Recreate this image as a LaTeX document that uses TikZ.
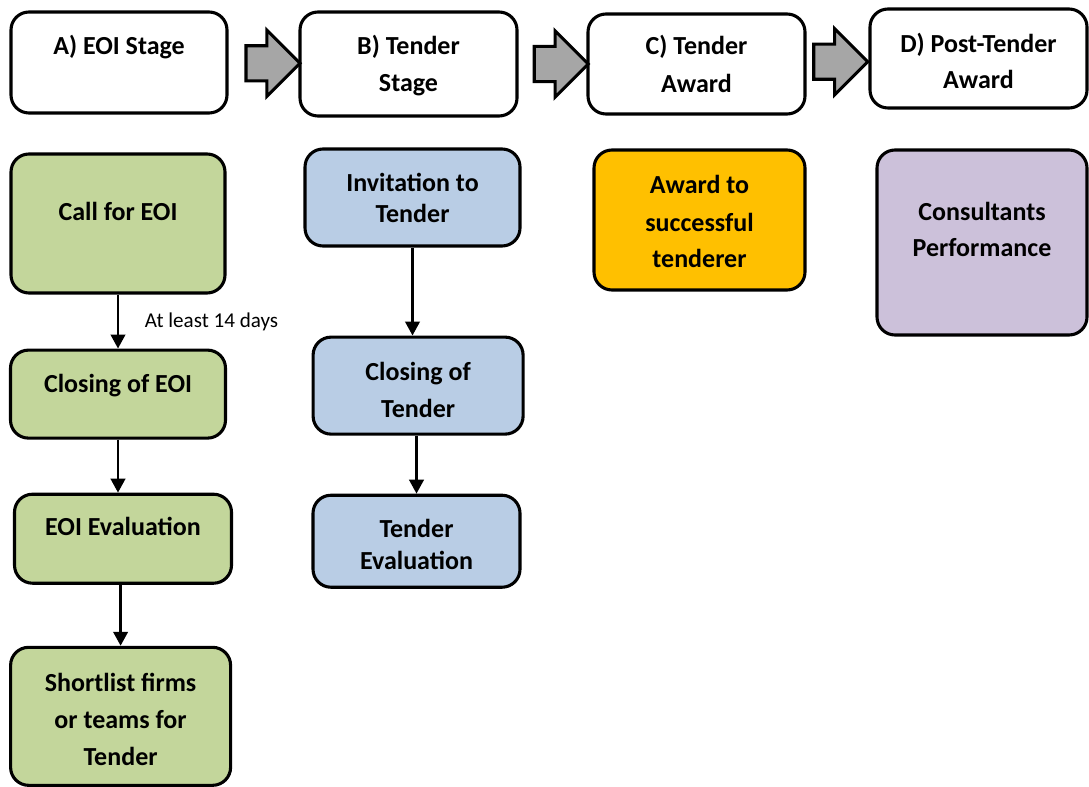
\documentclass[tikz,border=0pt]{standalone}
\usepackage{fontspec}
\setmainfont{Carlito}
\usepackage{xcolor}
\definecolor{eoigreen}{HTML}{C3D69B}
\definecolor{tenderblue}{HTML}{B9CDE5}
\definecolor{awardorange}{HTML}{FFC000}
\definecolor{postpurple}{HTML}{CCC1DA}
\definecolor{stagegrey}{HTML}{A6A6A6}
\usepackage{tikz}
\usetikzlibrary{arrows.meta, positioning, calc, shapes.arrows}

\newlength{\pxu}
\setlength{\pxu}{0.025cm}
% box text: width, height, first baseline, line skip, text
\newcommand{\boxtext}[5]{\parbox[c][#2\pxu][t]{#1\pxu}{\centering
  \fontsize{18.5}{26}\selectfont\bfseries\setlength{\baselineskip}{#4\pxu}%
  \rule{0pt}{#3\pxu}#5\par}}

\begin{document}
\begin{tikzpicture}[
    x=0.025cm, y=-0.025cm,
    stage/.style={draw, line width=2.2pt, rounded corners=0.45cm,
                  inner sep=0pt, fill=white},
    stepbox/.style={draw, line width=2.2pt, rounded corners=0.45cm,
                    inner sep=0pt},
    blockarrow/.style={draw, line width=2.2pt, fill=stagegrey, single arrow,
                       single arrow head extend=0.39cm, inner xsep=0pt,
                       inner ysep=0.4cm, minimum height=1.35cm},
    arrow/.style={-{Triangle[length=3.5mm, width=3.6mm]}, line width=2pt},
    lbl/.style={font=\fontsize{15}{18}\selectfont, inner sep=1pt}
  ]
    \useasboundingbox (0,0) rectangle (1089,787);

    % stages
    \node[stage] (hA) at (119,62.5) {\boxtext{216}{101}{43}{37}{A) EOI Stage}};
    \node[stage] (hB) at (408.5,64) {\boxtext{217}{104}{43}{37}{B) Tender\\Stage}};
    \node[stage] (hC) at (696.5,64) {\boxtext{217}{100}{41}{38}{C) Tender\\Award}};
    \node[stage] (hD) at (978.5,58.5) {\boxtext{217}{99}{44}{36}{D) Post-Tender\\Award}};

    \node[blockarrow] (ab) at ($(hA.east)!0.51!(hB.west)$) {};
    \node[blockarrow] (bc) at ($(hB.east)!0.5!(hC.west)$) {};
    \node[blockarrow] (cd) at ($(hC.east)!0.41!(hD.west)$) {};

    % EOI
    \node[stepbox, fill=eoigreen] (call) at (118,223.5)
      {\boxtext{214}{139}{67}{37}{Call for EOI}};
    \node[stepbox, fill=eoigreen, below=1.35cm of call] (closeeoi)
      {\boxtext{215}{88}{42}{37}{Closing of EOI}};
    \node[stepbox, fill=eoigreen, below=1.325cm of closeeoi, xshift=0.125cm] (evaleoi)
      {\boxtext{217}{89}{41}{37}{EOI Evaluation}};
    \node[stepbox, fill=eoigreen, below=1.525cm of evaleoi, xshift=-0.06cm] (shortlist)
      {\boxtext{220}{138}{44}{37}{Shortlist firms\\or teams for\\Tender}};

    % tender
    \node[stepbox, fill=tenderblue] (invite) at (412.5,197.5)
      {\boxtext{215}{97}{43}{31}{Invitation to\\Tender}};
    \node[stepbox, fill=tenderblue, below=2.2cm of invite, xshift=0.14cm] (closetender)
      {\boxtext{210}{97}{43}{37}{Closing of\\Tender}};
    \node[stepbox, fill=tenderblue, below=1.45cm of closetender, xshift=-0.04cm] (evaltender)
      {\boxtext{207}{92}{42}{32}{Tender\\Evaluation}};

    % award and after
    \node[stepbox, fill=awardorange] (award) at (699.5,220)
      {\boxtext{211}{140}{44}{37}{Award to\\successful\\tenderer}};
    \node[stepbox, fill=postpurple] (perf) at (982,242.5)
      {\boxtext{210}{185}{71}{36}{Consultants\\Performance}};

    \draw[arrow] (call.south) -- node[lbl, anchor=west, xshift=0.6cm] (mindays)
      {At least 14 days} (closeeoi.north);
    \draw[arrow] (closeeoi.south) -- (closeeoi.south |- evaleoi.north);
    \draw[arrow] (shortlist.north |- evaleoi.south) -- (shortlist.north);
    \draw[arrow] (invite.south) -- (invite.south |- closetender.north);
    \draw[arrow] (evaltender.north |- closetender.south) -- (evaltender.north);
  \end{tikzpicture}
\end{document}
